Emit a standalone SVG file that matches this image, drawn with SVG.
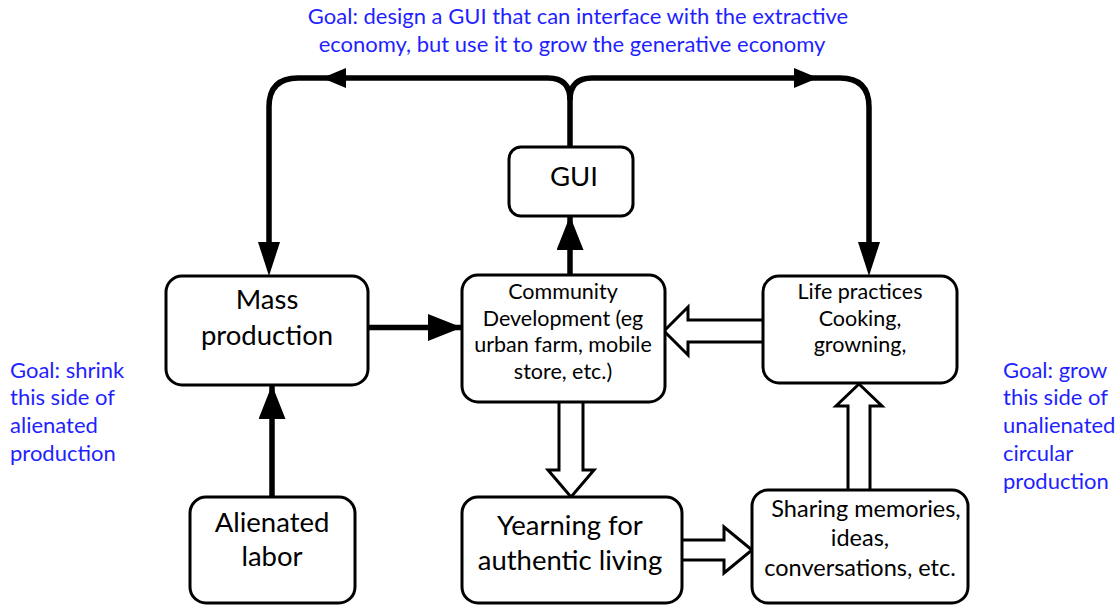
<svg xmlns="http://www.w3.org/2000/svg" width="1120" height="605" viewBox="0 0 1120 605">
<defs>
<style>
.box{fill:#fff;stroke:#000;stroke-width:3}
.t{font-family:Lato,"Liberation Sans",sans-serif;fill:#000;text-anchor:middle}
.big{font-size:27.5px}
.sm{font-size:21.5px}
.md{font-size:23.5px}
.goal{font-family:Lato,"Liberation Sans",sans-serif;fill:#1f1fff;font-size:22px}
.line{fill:none;stroke:#000;stroke-width:5.5}
.block{fill:#fff;stroke:#000;stroke-width:3;stroke-linejoin:miter}
</style>
<marker id="ah" viewBox="0 0 34 27" refX="34" refY="13.5" markerWidth="34" markerHeight="27" markerUnits="userSpaceOnUse" orient="auto">
<path d="M0,0 L34,13.5 L0,27 z" fill="#000"/>
</marker>
</defs>
<rect width="1120" height="605" fill="#fff"/>
<text class="goal" x="578" y="24" text-anchor="middle" font-size="21.5">Goal: design a GUI that can interface with the extractive</text>
<text class="goal" x="572" y="52" text-anchor="middle">economy, but use it to grow the generative economy</text>
<g id="connectors">
<path class="line" d="M570,147 V100 Q570,78 548,78 H298 Q269,78 269,107 V250"/>
<path class="line" d="M570,100 Q570,78 592,78 H840 Q869,78 869,107 V250"/>
<path d="M269,276 L258,242 L280,242 z" fill="#000"/>
<path d="M869,276 L858,242 L880,242 z" fill="#000"/>
<path d="M322,78 L346,68 L346,88 z" fill="#000"/>
<path d="M818,78 L794,68 L794,88 z" fill="#000"/>
<path class="line" d="M368,327.5 H462" marker-end="url(#ah)"/>
<path class="line" d="M570,275 V216" marker-end="url(#ah)"/>
<path class="line" d="M272,497 V385" marker-end="url(#ah)"/>
<path class="block" d="M763,320 H688 V307 L664,331 L688,355 V342 H763"/>
<path class="block" d="M848,490 V406 H836 L859,384 L882,406 H870 V490"/>
<path class="block" d="M559,402 V470 H548 L571,497 L594,470 H583 V402"/>
<path class="block" d="M682,540 H724 V527 L752,550 L724,573 V560 H682"/>
</g>
<g id="gui"><rect class="box" x="509" y="147" width="124" height="69" rx="12"/><text class="t big" x="574" y="186">GUI</text></g>
<g id="mass"><rect class="box" x="166" y="276" width="202" height="109" rx="16"/><text class="t big" x="267" y="309">Mass</text><text class="t big" x="267" y="345">production</text></g>
<g id="community"><rect class="box" x="462" y="275" width="203" height="127" rx="16"/><text class="t sm" x="563" y="299">Community</text><text class="t sm" x="563" y="326">Development (eg</text><text class="t sm" x="563" y="352">urban farm, mobile</text><text class="t sm" x="563" y="379">store, etc.)</text></g>
<g id="life"><rect class="box" x="763" y="276" width="194" height="107" rx="16"/><text class="t sm" x="860" y="299">Life practices</text><text class="t sm" x="860" y="326">Cooking,</text><text class="t sm" x="860" y="352">growning,</text></g>
<g id="alienated"><rect class="box" x="190" y="497" width="165" height="106" rx="16"/><text class="t big" x="272" y="532">Alienated</text><text class="t big" x="272" y="566">labor</text></g>
<g id="yearning"><rect class="box" x="462" y="497" width="220" height="106" rx="16"/><text class="t big" x="570" y="535">Yearning for</text><text class="t big" x="570" y="570">authentic living</text></g>
<g id="sharing"><rect class="box" x="752" y="490" width="216" height="113" rx="16"/><text class="t md" x="866" y="517">Sharing memories,</text><text class="t md" x="860" y="546">ideas,</text><text class="t md" x="860" y="576">conversations, etc.</text></g>
<g id="goal-left"><text class="goal" x="10" y="378">Goal: shrink</text><text class="goal" x="10" y="405">this side of</text><text class="goal" x="10" y="433">alienated</text><text class="goal" x="10" y="461">production</text></g>
<g id="goal-right"><text class="goal" x="1003" y="378">Goal: grow</text><text class="goal" x="1003" y="405">this side of</text><text class="goal" x="1003" y="433">unalienated</text><text class="goal" x="1003" y="461">circular</text><text class="goal" x="1003" y="489">production</text></g>
</svg>
